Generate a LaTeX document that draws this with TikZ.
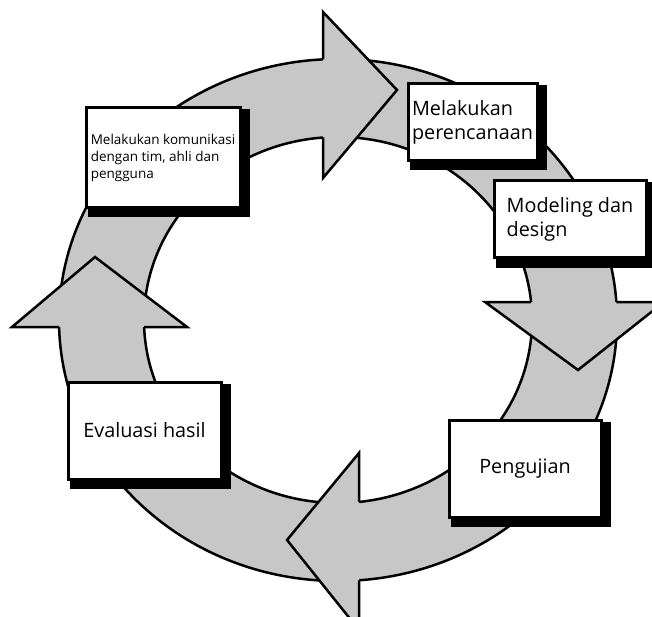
\documentclass[tikz,border=0pt]{standalone}
\usepackage{fontspec}
\setmainfont{Open Sans}
\definecolor{ringgray}{RGB}{199,199,199}
\begin{document}
\begin{tikzpicture}[x=1pt,y=-1pt,
  ringfill/.style={fill=ringgray},
  ringedge/.style={draw=black,line width=2.5pt},
  headstyle/.style={fill=ringgray,draw=black,line width=2.5pt,line join=miter},
  stepbox/.style={draw=black,line width=3pt,fill=white,inner sep=0pt,
     preaction={draw=black,fill=black,line width=8pt,transform canvas={shift={(5.5pt,-5.5pt)}}},
     font=\fontsize{19.8}{24}\selectfont, align=left},
  smallbox/.style={stepbox, font=\fontsize{13.5}{17}\selectfont},
]
\useasboundingbox (0,0) rectangle (652,617);
\clip (0,0) rectangle (652,617);
\coordinate (C) at (338,320);
% ring
\fill[ringfill, even odd rule] (C) ellipse [x radius=279, y radius=261] (C) ellipse [x radius=194, y radius=183];
\draw[ringedge] (C) ellipse [x radius=279, y radius=261];
\draw[ringedge] (C) ellipse [x radius=194, y radius=183];
% arrow heads
\path[headstyle] (323,59.4) -- (323,12) -- (397,90) -- (323,178) -- (323,137.5);
\path[headstyle] (616.3,302) -- (664,302) -- (578,370) -- (485,302) -- (531.1,302);
\path[headstyle] (359,580.3) -- (359,630) -- (287,540) -- (359,453) -- (359,501.9);
\path[headstyle] (59.1,327) -- (12,327) -- (95,257) -- (187,327) -- (144.1,327);
% boxes
\node[smallbox, minimum width=154, minimum height=100] (comm) at (163,158) {Melakukan komunikasi\\dengan tim, ahli dan\\pengguna};
\node[stepbox, minimum width=129, minimum height=77] (plan) at (472.5,122.5) {Melakukan\\perencanaan};
\node[stepbox, minimum width=152, minimum height=77] (model) at (570,219.5) {Modeling dan\\design};
\node[stepbox, minimum width=152, minimum height=97] (test) at (525,468.5) {Pengujian};
\node[stepbox, minimum width=153, minimum height=97] (eval) at (144.5,430.5) {Evaluasi hasil};
\end{tikzpicture}
\end{document}
